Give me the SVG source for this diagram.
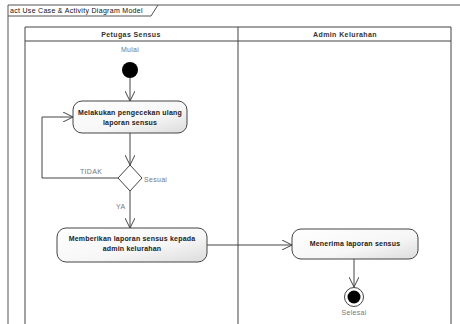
<svg xmlns="http://www.w3.org/2000/svg" width="460" height="324" viewBox="0 0 460 324">
<style>
text{font-family:"Liberation Sans",Arial,sans-serif;fill:#111}
.t{font-size:7px;letter-spacing:0.3px}
.g{font-size:7px;fill:#777;letter-spacing:0.3px}
.h{font-size:7px;font-weight:bold;fill:#333;letter-spacing:0.4px}
.a{font-size:7px;font-weight:bold;fill:#222;letter-spacing:0.2px}
.frame{fill:none;stroke:#555;stroke-width:1}
.lane{fill:none;stroke:#444;stroke-width:1}
.act{fill:url(#gr);stroke:#444;stroke-width:1}
.c{fill:none;stroke:#444;stroke-width:1}
</style>
<defs>
<linearGradient id="gr" x1="0" y1="0" x2="1" y2="1">
<stop offset="0" stop-color="#ffffff"/>
<stop offset="0.6" stop-color="#f6f6f6"/>
<stop offset="1" stop-color="#dcdcdc"/>
</linearGradient>
<marker id="ar" viewBox="0 0 10 10" refX="10" refY="5" markerWidth="10" markerHeight="10" markerUnits="userSpaceOnUse" orient="auto">
<path d="M0,0 L10,5 L0,10" fill="none" stroke="#444" stroke-width="1"/>
</marker>
</defs>
<rect width="460" height="324" fill="#fff"/>
<g id="frame">
<path class="frame" d="M8,324 L8,5 L460,5"/>
<path class="frame" d="M8,16 L151,16 L158,5"/>
<text class="t" x="10" y="13">act Use Case &amp; Activity Diagram Model</text>
</g>
<g id="lanes">
<path class="lane" d="M25,324 L25,27 L451,27 L451,324"/>
<line class="lane" x1="25" y1="41" x2="451" y2="41"/>
<line class="lane" x1="238" y1="27" x2="238" y2="324"/>
<text class="h" x="131" y="37" text-anchor="middle">Petugas Sensus</text>
<text class="h" x="345" y="37" text-anchor="middle">Admin Kelurahan</text>
</g>
<g id="connectors">
<line class="c" x1="130" y1="78" x2="130" y2="101" marker-end="url(#ar)"/>
<line class="c" x1="130" y1="133" x2="130" y2="165" marker-end="url(#ar)"/>
<path class="c" d="M118,178 L42,178 L42,117 L73,117" marker-end="url(#ar)"/>
<line class="c" x1="130" y1="191" x2="130" y2="228" marker-end="url(#ar)"/>
<line class="c" x1="207" y1="245" x2="292" y2="245" marker-end="url(#ar)"/>
<line class="c" x1="354" y1="259" x2="354" y2="287" marker-end="url(#ar)"/>
<text class="g" x="80" y="174">TIDAK</text>
<text class="g" x="144" y="182">Sesuai</text>
<text class="g" x="116" y="209">YA</text>
</g>
<g id="start">
<text class="g" x="130" y="52" text-anchor="middle">Mulai</text>
<circle cx="130" cy="70" r="8" fill="#000"/>
</g>
<g id="act1">
<rect class="act" x="73" y="101" width="114" height="32" rx="9"/>
<text class="a" x="130" y="115" text-anchor="middle">Melakukan pengecekan ulang</text>
<text class="a" x="130" y="125" text-anchor="middle">laporan sensus</text>
</g>
<g id="decision">
<path d="M130,165 L142,178 L130,191 L118,178 Z" fill="#fff" stroke="#444" stroke-width="1"/>
</g>
<g id="act2">
<rect class="act" x="57" y="228" width="150" height="34" rx="9"/>
<text class="a" x="132" y="241" text-anchor="middle">Memberikan laporan sensus kepada</text>
<text class="a" x="132" y="251" text-anchor="middle">admin kelurahan</text>
</g>
<g id="act3">
<rect class="act" x="292" y="229" width="126" height="30" rx="9"/>
<text class="a" x="355" y="246" text-anchor="middle">Menerima laporan sensus</text>
</g>
<g id="end">
<circle cx="354" cy="297" r="9.5" fill="#fff" stroke="#444" stroke-width="1"/>
<circle cx="354" cy="297" r="6.5" fill="#000"/>
<text class="g" x="354" y="315" text-anchor="middle">Selesai</text>
</g>
</svg>
